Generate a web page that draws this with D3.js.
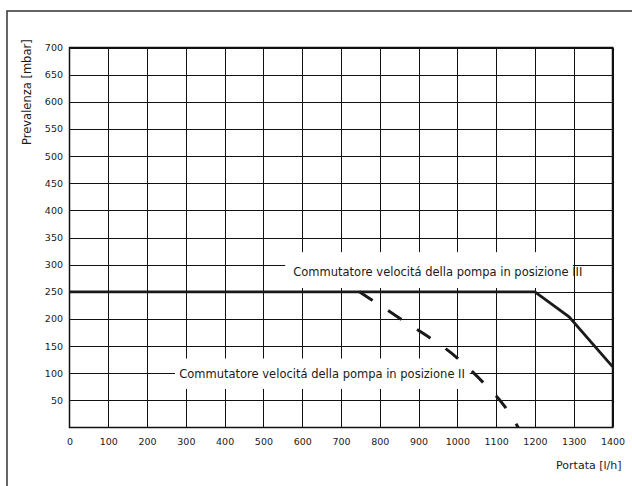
<!DOCTYPE html>
<html>
<head>
<meta charset="utf-8">
<script src="https://cdn.jsdelivr.net/npm/d3@7"></script>
<style>
  html, body { margin: 0; padding: 0; background: #fff; }
  svg { display: block; font-family: "DejaVu Sans", sans-serif; }
</style>
</head>
<body>
<div id="container"></div>
<script>
// Pump curves: available head vs flow rate
const flowTicks = [0, 100, 200, 300, 400, 500, 600, 700, 800, 900, 1000, 1100, 1200, 1300, 1400];
const headTicks = [50, 100, 150, 200, 250, 300, 350, 400, 450, 500, 550, 600, 650, 700];

// speed switch position III (solid)
const flowIII = [0, 1200, 1288, 1400];
const headIII = [250, 250, 204, 112];

// speed switch position II (dashed)
const flowII = [747, 860, 1000, 1065, 1123, 1157];
const headII = [250, 197, 128, 84, 38, 0];

const labelIII = "Commutatore velocitá della pompa in posizione III";
const labelII = "Commutatore velocitá della pompa in posizione II";

const width = 632;
const height = 486;
const margin = { top: 47.5, right: 19.5, bottom: 58.5, left: 69.5 };

const svg = d3
  .select("#container")
  .append("svg")
  .attr("width", width)
  .attr("height", height);

// outer frame (cut off on the right and bottom)
svg
  .append("rect")
  .attr("x", 7)
  .attr("y", 11)
  .attr("width", 700)
  .attr("height", 600)
  .style("fill", "none")
  .style("stroke", "#333")
  .style("stroke-width", 1.5);

const xScale = d3.scaleLinear().domain([0, 1400]).range([margin.left, width - margin.right]);
const yScale = d3.scaleLinear().domain([0, 700]).range([height - margin.bottom, margin.top]);

// grid
const grid = svg.append("g").style("stroke", "#111").style("stroke-width", 1);

grid
  .selectAll(".v")
  .data(flowTicks.slice(1))
  .enter()
  .append("line")
  .attr("x1", (d) => Math.round(xScale(d)) + 0.5)
  .attr("x2", (d) => Math.round(xScale(d)) + 0.5)
  .attr("y1", yScale(0))
  .attr("y2", yScale(700));

grid
  .selectAll(".h")
  .data(headTicks)
  .enter()
  .append("line")
  .attr("x1", xScale(0))
  .attr("x2", xScale(1400))
  .attr("y1", (d) => Math.round(yScale(d)) + 0.5)
  .attr("y2", (d) => Math.round(yScale(d)) + 0.5);

// plot frame
svg
  .append("path")
  .attr("d", `M${xScale(0)},${yScale(700)}V${yScale(0)}H${xScale(1400)}V${yScale(700)}Z`)
  .style("fill", "none")
  .style("stroke", "#111")
  .style("stroke-width", 1.5);

// white boxes behind the annotations
svg
  .append("rect")
  .attr("x", xScale(556))
  .attr("y", yScale(323))
  .attr("width", xScale(1298) - xScale(556))
  .attr("height", yScale(257) - yScale(323))
  .style("fill", "#fff");

svg
  .append("rect")
  .attr("x", xScale(272))
  .attr("y", yScale(127))
  .attr("width", xScale(1032) - xScale(272))
  .attr("height", yScale(71) - yScale(127))
  .style("fill", "#fff");

// tick labels
const xAxis = d3
  .axisBottom(xScale)
  .tickValues(flowTicks)
  .tickFormat(d3.format("d"))
  .tickSize(0)
  .tickPadding(11);
const yAxis = d3.axisLeft(yScale).tickValues(headTicks).tickSize(0).tickPadding(6);

svg
  .append("g")
  .attr("transform", `translate(0,${yScale(0)})`)
  .call(xAxis)
  .call((g) => g.select(".domain").remove())
  .selectAll("text")
  .style("font-family", "DejaVu Sans, sans-serif")
  .style("font-size", "9.5px")
  .style("fill", "#1a1a1a");

svg
  .append("g")
  .attr("transform", `translate(${xScale(0) - 0.5},0)`)
  .call(yAxis)
  .call((g) => g.select(".domain").remove())
  .selectAll("text")
  .style("font-family", "DejaVu Sans, sans-serif")
  .style("font-size", "9.5px")
  .style("fill", "#1a1a1a");

// curves
const line = d3
  .line()
  .x((d) => xScale(d[0]))
  .y((d) => yScale(d[1]));

svg
  .append("path")
  .attr("d", line(d3.zip(flowIII, headIII)))
  .style("fill", "none")
  .style("stroke", "#1a1a1a")
  .style("stroke-width", 2.8);

svg
  .append("path")
  .attr("d", line.curve(d3.curveMonotoneX)(d3.zip(flowII, headII)))
  .style("fill", "none")
  .style("stroke", "#1a1a1a")
  .style("stroke-width", 3)
  .style("stroke-dasharray", "16,18.5");

// annotations
svg
  .append("text")
  .attr("x", xScale(577))
  .attr("y", yScale(280))
  .style("font-size", "11.5px")
  .style("fill", "#1a1a1a")
  .text(labelIII);

svg
  .append("text")
  .attr("x", xScale(283))
  .attr("y", yScale(92))
  .style("font-size", "11.5px")
  .style("fill", "#1a1a1a")
  .text(labelII);

// axis titles
svg
  .append("text")
  .attr("x", 621.5)
  .attr("y", 468.5)
  .attr("text-anchor", "end")
  .style("font-size", "11px")
  .style("fill", "#1a1a1a")
  .text("Portata [l/h]");

svg
  .append("text")
  .attr("transform", "translate(30.5,145) rotate(-90)")
  .style("font-size", "11.5px")
  .style("fill", "#1a1a1a")
  .text("Prevalenza [mbar]");
</script>
</body>
</html>
